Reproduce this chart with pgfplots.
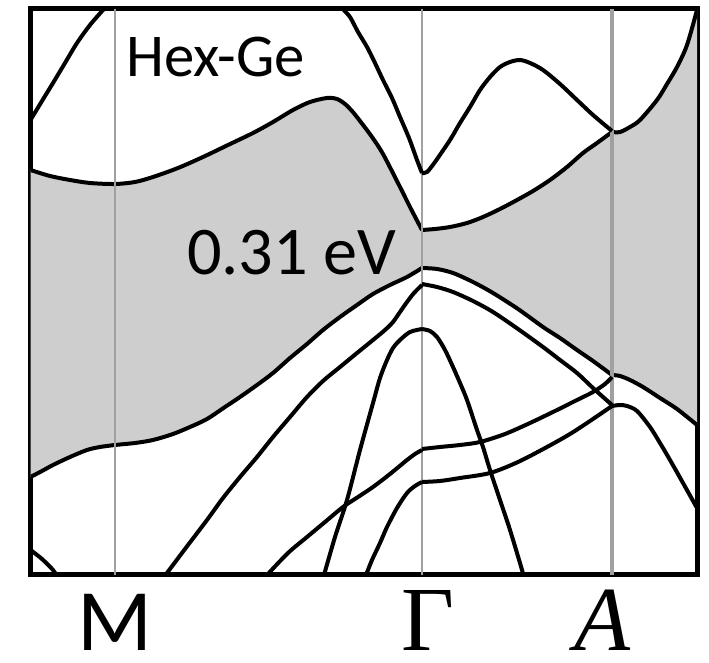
\documentclass[border=0pt]{standalone}
\usepackage{fontspec}
\usepackage{pgfplots}
\pgfplotsset{compat=1.18}
\usepgfplotslibrary{fillbetween}
\newfontfamily\carlito{Carlito}
\newfontfamily\lserif{Liberation Serif}
\definecolor{gapgray}{RGB}{206,206,206}
\definecolor{kline}{RGB}{160,160,160}
\tikzset{band/.style={black, line width=4bp, smooth, tension=0.5}}
\begin{document}
\begin{tikzpicture}
\begin{axis}[
  set layers,
  at={(30.5bp,88bp)}, anchor=south west,
  scale only axis, width=666.5bp, height=566bp,
  xmin=30.5, xmax=697, ymin=9, ymax=575, y dir=reverse,
  axis line style={line width=5bp},
  ytick=\empty,
  xtick={115,422,612},
  xticklabels={{\carlito\fontsize{88}{88}\selectfont M},{\hspace*{12bp}Γ},{\itshape A\hspace*{20bp}}},
  xticklabel style={font=\lserif\fontsize{92}{92}\selectfont, anchor=base, inner sep=0pt, yshift=-75bp},
  major tick length=0pt,
  clip=true,
]
% --- band edges used for the gap shading ---
\addplot[band, name path=cbL] coordinates {(30.5,170) (50,176) (70,180) (90,183) (115,184) (135,182) (153,177) (178,168) (203,157) (228,145) (253,133) (273,122) (293,110) (310,102) (327,98) (337,99) (345,104) (352,111) (360,121) (372,137) (383,154) (400,187) (411,209) (422,230)};
\addplot[band, name path=cbR] coordinates {(422,230) (435,229) (450,227) (467,223) (483,217) (500,209) (517,200) (533,191) (550,180) (567,167) (583,153) (597,143) (612,132)};
\addplot[band, name path=cbRR] coordinates {(612,132) (620,132) (630,127) (640,120) (657,100) (667,84) (677,67) (687,45) (697,10)};
\addplot[band, name path=vbL] coordinates {(30.5,477) (42,471) (53,465) (70,457) (87,450) (100,447) (115,445) (135,443) (153,440) (173,434) (190,427) (207,419) (225,407) (240,397) (257,385) (273,373) (290,358) (307,344) (323,330) (340,317) (357,305) (373,294) (390,285) (407,277) (422,268)};
\addplot[band, name path=vbR] coordinates {(422,268) (437,269) (453,273) (473,282) (493,293) (518,309) (543,327) (560,338) (577,350) (593,361) (612,375)};
\addplot[band, name path=vbRR] coordinates {(612,375) (620,376) (630,380) (643,387) (660,398) (677,409) (697,425)};
\addplot[gapgray, draw=none] fill between[of=cbL and vbL];
\addplot[gapgray, draw=none] fill between[of=cbR and vbR];
\addplot[gapgray, draw=none] fill between[of=cbRR and vbRR];
% --- high-symmetry lines ---
\addplot[kline, line width=2.5bp] coordinates {(115,9) (115,575)};
\addplot[kline, line width=2.5bp] coordinates {(422,9) (422,575)};
\addplot[kline, line width=3.5bp] coordinates {(612,9) (612,575)};
% --- other conduction bands ---
\addplot[band] coordinates {(30.5,120) (42,101) (53,83) (65,63) (77,43) (90,25) (103,10) (110,2)};
\addplot[band] coordinates {(340,2) (343,9) (350,17) (358,32) (367,47) (375,63) (383,80) (392,98) (400,117) (409,138) (417,160) (422,173)};
\addplot[band] coordinates {(422,173) (427,172) (435,162) (450,140) (460,123) (470,107) (480,90) (490,77) (500,67) (510,62) (520,60) (530,63) (543,70) (560,84) (577,100) (593,115) (612,131)};
% --- other valence bands ---
\addplot[band] coordinates {(162,580) (167,573) (185,549) (207,520) (223,498) (240,477) (257,457) (273,437) (290,417) (307,397) (323,381) (340,367) (357,353) (373,340) (385,330) (393,322) (400,312) (407,302) (414,293) (422,285)};
\addplot[band] coordinates {(422,284) (437,287) (453,292) (473,301) (493,312) (518,329) (543,347) (560,360) (577,373) (593,388) (612,405)};
\addplot[band] coordinates {(612,406) (620,405) (627,406) (637,411) (650,427) (660,443) (670,460) (683,483) (697,508)};
\addplot[band] coordinates {(322,582) (324,575) (335,537) (347,500) (360,450) (373,403) (380,378) (387,360) (393,348) (400,340) (410,332) (422,329)};
\addplot[band] coordinates {(422,329) (430,331) (437,337) (445,350) (453,367) (460,383) (467,400) (477,430) (483,447) (490,470) (500,500) (510,530) (522,570) (524,580)};
\addplot[band] coordinates {(261,582) (267,575) (288,553) (307,537) (325,522) (343,507) (358,497) (373,487) (390,474) (407,460) (415,454) (422,450)};
\addplot[band] coordinates {(422,449) (440,447) (460,445) (480,442) (505,434) (530,423) (555,411) (575,401) (593,392) (605,384) (612,377)};
\addplot[band] coordinates {(363,582) (366,575) (372,560) (380,543) (387,527) (397,508) (407,493) (415,486) (422,482)};
\addplot[band] coordinates {(422,482) (440,481) (460,478) (490,473) (518,462) (547,447) (570,434) (590,421) (612,406)};
\addplot[band] coordinates {(30.5,550) (42,559) (53,570) (58,578)};
% --- labels ---
\node[anchor=base west, inner sep=0pt, font=\carlito\fontsize{61}{61}\selectfont] at (axis cs:126,77) {Hex-Ge};
\node[anchor=base west, inner sep=0pt, font=\carlito\fontsize{68.5}{68.5}\selectfont] at (axis cs:187,275) {0.31 eV};
\end{axis}
\path (0,0) rectangle (709bp,663bp);
\end{tikzpicture}
\end{document}
